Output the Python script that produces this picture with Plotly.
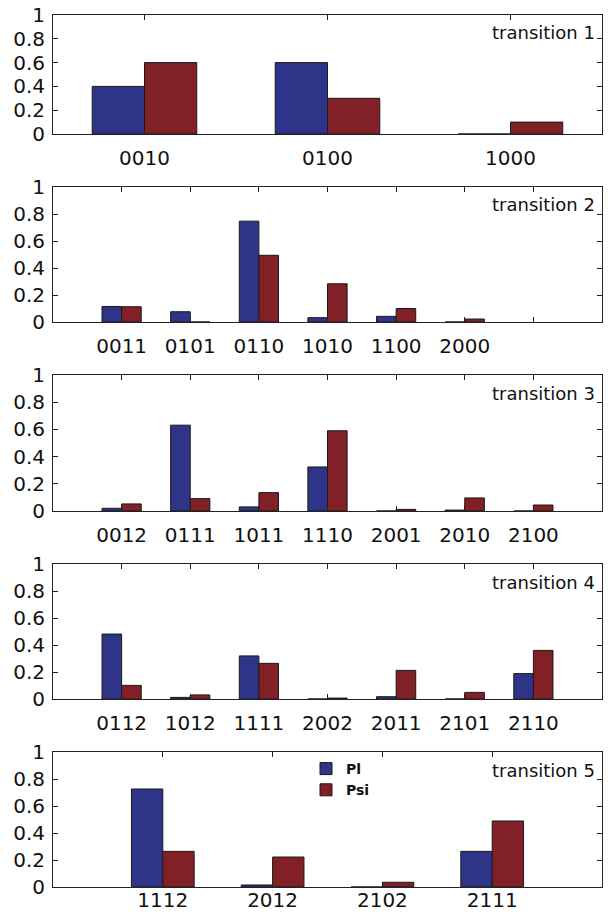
import plotly.graph_objects as go
from plotly.subplots import make_subplots

# ---------------- data ----------------
panel_titles = ["transition 1", "transition 2", "transition 3", "transition 4", "transition 5"]

cats1 = ["0010", "0100", "1000"]
pl1 = [0.40, 0.60, 0.0]
psi1 = [0.60, 0.30, 0.10]

cats2 = ["0011", "0101", "0110", "1010", "1100", "2000"]
pl2 = [0.115, 0.076, 0.747, 0.032, 0.042, 0.0]
psi2 = [0.113, 0.0, 0.494, 0.283, 0.100, 0.022]

cats3 = ["0012", "0111", "1011", "1110", "2001", "2010", "2100"]
pl3 = [0.020, 0.631, 0.030, 0.324, 0.0, 0.007, 0.0]
psi3 = [0.052, 0.091, 0.135, 0.590, 0.012, 0.096, 0.044]

cats4 = ["0112", "1012", "1111", "2002", "2011", "2101", "2110"]
pl4 = [0.481, 0.012, 0.319, 0.0, 0.017, 0.0, 0.188]
psi4 = [0.101, 0.030, 0.264, 0.007, 0.212, 0.049, 0.360]

cats5 = ["1112", "2012", "2102", "2111"]
pl5 = [0.726, 0.015, 0.0, 0.264]
psi5 = [0.264, 0.222, 0.035, 0.489]

y_ticks = [0, 0.2, 0.4, 0.6, 0.8, 1]
y_tick_labels = ["0", "0.2", "0.4", "0.6", "0.8", "1"]
series_names = ["Pl", "Psi"]

# ---------------- styling / layout ----------------
W, H = 612, 918
BLUE = "#2E3488"
RED = "#812027"
FONT = "DejaVu Sans"
AX_LEFT, AX_RIGHT = 53, 602
panel_px = [(15, 134), (187, 322), (375, 511), (564, 699), (752, 887)]
x_ranges = [(0.5, 3.5), (0, 8), (0, 8), (0, 8), (0, 5)]
n_ticks = [3, 7, 7, 7, 4]
x_standoff = [6, 6, 6, 6, -5]
BW = 0.2857  # MATLAB grouped bar width for two series


def px_x(p):
    return p / W


def px_y(p):
    return 1 - p / H


panels = [(cats1, pl1, psi1), (cats2, pl2, psi2), (cats3, pl3, psi3),
          (cats4, pl4, psi4), (cats5, pl5, psi5)]

fig = make_subplots(rows=5, cols=1)

for i, (cats, pl, psi) in enumerate(panels):
    r = i + 1
    xs = list(range(1, len(cats) + 1))
    fig.add_trace(go.Bar(x=xs, y=pl, name=series_names[0], width=BW, offset=-BW,
                         marker=dict(color=BLUE, line=dict(color="#1a1a1a", width=1)),
                         showlegend=(r == 5), legend="legend"), row=r, col=1)
    fig.add_trace(go.Bar(x=xs, y=psi, name=series_names[1], width=BW, offset=0,
                         marker=dict(color=RED, line=dict(color="#1a1a1a", width=1)),
                         showlegend=(r == 5), legend="legend"), row=r, col=1)

    tickvals = list(range(1, n_ticks[i] + 1))
    ticktext = [cats[k] if k < len(cats) else "" for k in range(n_ticks[i])]
    top, bot = panel_px[i]
    fig.update_xaxes(row=r, col=1, range=list(x_ranges[i]),
                     domain=[px_x(AX_LEFT), px_x(AX_RIGHT)], automargin=False,
                     tickmode="array", tickvals=tickvals, ticktext=ticktext,
                     ticks="inside", ticklen=5, tickcolor="#222", tickwidth=1,
                     showline=True, linecolor="#222", linewidth=1, mirror="ticks",
                     showgrid=False, zeroline=False, ticklabelstandoff=x_standoff[i],
                     tickfont=dict(family=FONT, size=20, color="#111"))
    fig.update_yaxes(row=r, col=1, range=[0, 1],
                     domain=[px_y(bot), px_y(top)], automargin=False,
                     tickmode="array", tickvals=y_ticks, ticktext=y_tick_labels,
                     ticks="inside", ticklen=5, tickcolor="#222", tickwidth=1,
                     showline=True, linecolor="#222", linewidth=1, mirror="ticks",
                     showgrid=False, zeroline=False, ticklabelstandoff=3,
                     tickfont=dict(family=FONT, size=20, color="#111"))
    fig.add_annotation(text=panel_titles[i], xref="paper", yref="paper",
                       x=px_x(597), y=px_y(top + 18), xanchor="right", yanchor="middle",
                       showarrow=False, font=dict(family=FONT, size=18, color="#111"))

fig.update_layout(
    width=W, height=H,
    margin=dict(l=0, r=0, t=0, b=0, autoexpand=False),
    paper_bgcolor="white", plot_bgcolor="white",
    barmode="overlay",
    legend=dict(x=px_x(306), y=px_y(753), xanchor="left", yanchor="top",
                bgcolor="rgba(0,0,0,0)", borderwidth=0,
                font=dict(family=FONT, size=14, color="#111", weight="bold"),
                tracegroupgap=0),
)

# remove the default page margin so the figure fills the window exactly
fig.write_html("out.html",
               config={"displayModeBar": False},
               post_script="document.body.style.margin='0';document.body.style.overflow='hidden';")
